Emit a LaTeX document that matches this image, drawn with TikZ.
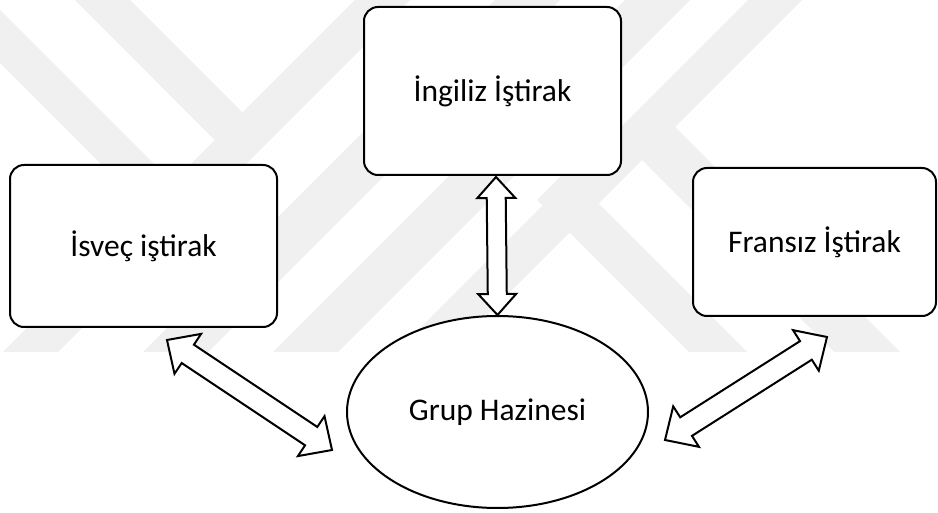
\documentclass[tikz,border=0pt]{standalone}
\usepackage{fontspec}
\setmainfont{Carlito}
\usetikzlibrary{shapes.geometric,calc}

% Hollow two-headed arrow between two points:
% #1, #2 tips, #3 half head width, #4 half shaft width, #5 head length
\newcommand\twowayarrow[5]{%
  \draw[twoway]
    (#1)
    -- ($($(#1)!#5!(#2)$)!#3!90:(#2)$)
    -- ($($(#1)!#5!(#2)$)!#4!90:(#2)$)
    -- ($($(#2)!#5!(#1)$)!#4!-90:(#1)$)
    -- ($($(#2)!#5!(#1)$)!#3!-90:(#1)$)
    -- (#2)
    -- ($($(#2)!#5!(#1)$)!#3!90:(#1)$)
    -- ($($(#2)!#5!(#1)$)!#4!90:(#1)$)
    -- ($($(#1)!#5!(#2)$)!#4!-90:(#2)$)
    -- ($($(#1)!#5!(#2)$)!#3!-90:(#2)$)
    -- cycle;}

\begin{document}
\begin{tikzpicture}[x=1pt,y=-1pt,
  labelfont/.style={font=\fontsize{31.5}{38}\selectfont},
  box/.style={draw=black, line width=2pt, rounded corners=14pt, fill=white,
    inner sep=0pt, labelfont},
  hub/.style={ellipse, draw=black, line width=2pt, fill=white, inner sep=0pt,
    minimum width=301pt, minimum height=192pt, labelfont},
  twoway/.style={draw=black, line width=2pt, fill=white, line join=miter},
  wmband/.style={fill=black!6, draw=none}]

\useasboundingbox (0,0) rectangle (938,513);
\fill[white] (0,0) rectangle (938,513);

% faint background emblem made of diagonal bands
\begin{scope}
  \clip (0,0) rectangle (938,352);
  % long rising bands
  \fill[wmband] (355,0) -- (410,0) -- (58,352) -- (3,352) -- cycle;
  \fill[wmband] (495,0) -- (560,0) -- (208,352) -- (143,352) -- cycle;
  \fill[wmband] (625,0) -- (690,0) -- (338,352) -- (273,352) -- cycle;
  \fill[wmband] (748,0) -- (802,0) -- (450,352) -- (396,352) -- cycle;
  % short falling arms ending on the rising bands
  \fill[wmband] (75,0) -- (130,0) -- (256,126) -- (228.5,154) -- cycle;
  \fill[wmband] (0,10) -- (0,63) -- (159.5,222.5) -- (186,196) -- cycle;
  % falling arms leaving the right rising band
  \fill[wmband] (537,200) -- (566,171) -- (747,352) -- (689,352) -- cycle;
  \fill[wmband] (622,140) -- (655,107) -- (900,352) -- (834,352) -- cycle;
\end{scope}

% the four units
\node[box, minimum width=267pt, minimum height=162pt] (isvec) at (143.5,246) {İsveç iştirak};
\node[box, minimum width=257pt, minimum height=168pt] (ing) at (492.5,91) {İngiliz İştirak};
\node[box, minimum width=243pt, minimum height=148pt] (fra) at (814.5,242) {Fransız İştirak};
\node[hub] (grup) at (497.5,412) {Grup Hazinesi};

% arrow tips
\coordinate (a1) at ($(isvec.south)+(23.5,12)$);
\coordinate (a2) at ($(grup.west)+(-14,38)$);
\coordinate (b1) at ($(ing.south)+(3.5,1)$);
\coordinate (b2) at (grup.north);
\coordinate (c1) at ($(fra.south)+(12.5,20)$);
\coordinate (c2) at ($(grup.east)+(16,28)$);

% two-way flows
\twowayarrow{a1}{a2}{24pt}{11pt}{25pt}
\twowayarrow{b1}{b2}{19pt}{9.5pt}{21pt}
\twowayarrow{c1}{c2}{24pt}{11pt}{25pt}

\end{tikzpicture}
\end{document}
